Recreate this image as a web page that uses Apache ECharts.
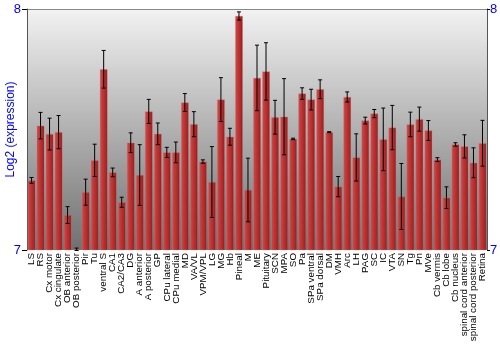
<!DOCTYPE html>
<html><head><meta charset="utf-8">
<script src="https://cdn.jsdelivr.net/npm/echarts@6/dist/echarts.min.js"></script>
<style>html,body{margin:0;padding:0;background:#fff}#c{width:500px;height:350px}</style>
</head><body><div id="c"></div>
<script>
const categories = ["LS","RS","Cx motor","Cx cingulate","OB anterior","OB posterior","Pir","Tu","ventral S","CA1","CA2/CA3","DG","A anterior","A posterior","GP","CPu lateral","CPu medial","MD","VA/VL","VPM/VPL","LG","MG","Hb","Pineal","M","ME","Pituitary","SCN","MPA","SO","Pa","SPa ventral","SPa dorsal","DM","VMH","Arc","LH","PAG","SC","IC","VTA","SN","Tg","Pn","MVe","Cb vermis","Cb lobe","Cb nucleus","spinal cord anterior","spinal cord posterior","Retina"];
const values = [7.289,7.516,7.481,7.489,7.145,7.003,7.240,7.372,7.750,7.322,7.198,7.445,7.311,7.575,7.482,7.405,7.405,7.612,7.522,7.367,7.282,7.624,7.470,7.971,7.249,7.714,7.741,7.551,7.553,7.461,7.649,7.624,7.667,7.489,7.263,7.635,7.384,7.537,7.566,7.459,7.508,7.222,7.521,7.543,7.496,7.375,7.217,7.438,7.430,7.362,7.443];
const errors = [0.012,0.055,0.066,0.069,0.035,0.005,0.054,0.067,0.078,0.018,0.021,0.041,0.126,0.050,0.045,0.021,0.043,0.037,0.052,0.007,0.147,0.091,0.035,0.017,0.132,0.136,0.119,0.070,0.158,0.003,0.024,0.043,0.039,0.002,0.042,0.021,0.098,0.014,0.017,0.130,0.092,0.137,0.051,0.050,0.041,0.008,0.045,0.007,0.048,0.062,0.095];
const yTicks = [7, 8];

const chart = echarts.init(document.getElementById('c'), null, {renderer:'canvas'});
const blue = '#0000ff';
const errData = values.map((v,i)=>[i, v-errors[i], v+errors[i]]);
chart.setOption({
  animation:false,
  grid:{left:27,right:13,top:9,bottom:100,show:true,borderWidth:0,containLabel:false,outerBoundsMode:'none',
    backgroundColor:new echarts.graphic.LinearGradient(0,0,0,1,[{offset:0,color:'#f2f2f2'},{offset:1,color:'#707070'}])},
  xAxis:{type:'category',data:categories,
    axisLine:{show:false},axisTick:{show:false},
    axisLabel:{interval:0,rotate:90,fontSize:9.8,color:'#000',margin:3,hideOverlap:false,fontFamily:'Liberation Sans, Arial, sans-serif'}},
  yAxis:[
    {type:'value',min:yTicks[0],max:yTicks[1],interval:1,
     name:'Log2 (expression)',nameLocation:'middle',nameGap:10,nameMoveOverlap:false,
     nameTextStyle:{color:blue,fontSize:12,fontFamily:'Liberation Sans, Arial, sans-serif'},
     axisLine:{show:true,lineStyle:{color:'#555'}},
     axisTick:{show:true,length:5,lineStyle:{color:'#000'}},
     axisLabel:{color:blue,fontSize:13,margin:6,fontFamily:'Liberation Sans, Arial, sans-serif'},
     splitLine:{show:false}},
    {type:'value',min:yTicks[0],max:yTicks[1],interval:1,position:'right',
     axisLine:{show:true,lineStyle:{color:'#555'}},
     axisTick:{show:true,length:3,lineStyle:{color:'#000'}},
     axisLabel:{color:blue,fontSize:13,margin:3,fontFamily:'Liberation Sans, Arial, sans-serif'},
     splitLine:{show:false}}
  ],
  series:[
    {type:'bar',data:values,barCategoryGap:'16%',
     itemStyle:{color:new echarts.graphic.LinearGradient(0,0,1,0,[
        {offset:0,color:'#c85050'},{offset:0.35,color:'#c03838'},{offset:0.8,color:'#a82626'},{offset:1,color:'#7a1414'}]),
       borderColor:'rgba(220,120,120,0.6)',borderWidth:0.5}},
    {type:'custom',data:errData,z:5,
     renderItem:function(params,api){
       const x=api.coord([api.value(0),api.value(1)])[0];
       const lo=api.coord([api.value(0),api.value(1)])[1];
       const hi=api.coord([api.value(0),api.value(2)])[1];
       const w=2;
       const st={stroke:'#000',lineWidth:1};
       return {type:'group',children:[
         {type:'line',shape:{x1:x,y1:lo,x2:x,y2:hi},style:st},
         {type:'line',shape:{x1:x-w,y1:lo,x2:x+w,y2:lo},style:st},
         {type:'line',shape:{x1:x-w,y1:hi,x2:x+w,y2:hi},style:st}
       ]};
     }},
  ],
  graphic:[{type:'line',shape:{x1:27,y1:9.5,x2:487,y2:9.5},style:{stroke:'#888',lineWidth:1}}]
});
</script></body></html>
